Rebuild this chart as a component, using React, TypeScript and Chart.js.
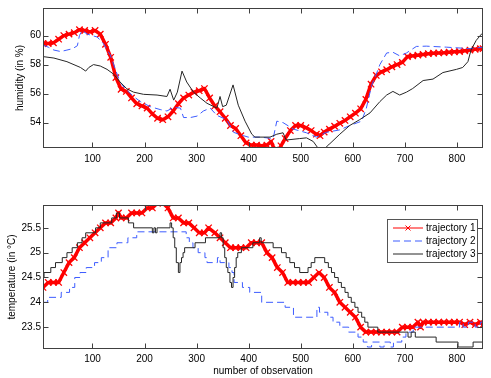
import React, { useEffect, useRef } from 'react';
import { Chart, registerables } from 'chart.js';

Chart.register(...registerables);

// ---------- tick labels ----------
const X_TICKS = [100, 200, 300, 400, 500, 600, 700, 800];
const HUM_TICKS = [54, 56, 58, 60];
const TEMP_TICKS = [23.5, 24, 24.5, 25, 25.5];
const LEGEND_LABELS = ['trajectory 1', 'trajectory 2', 'trajectory 3'];

// ---------- humidity (top) ----------
const HUM_T1: [number, number][] = [
  [5, 59.45], [15, 59.45], [25, 59.5], [35, 59.75], [45, 60.0], [55, 60.1], [65, 60.2], [75, 60.4],
  [85, 60.35], [95, 60.25], [105, 60.35], [115, 60.1], [125, 59.4], [135, 58.5], [145, 57.1],
  [155, 56.3], [165, 56.15], [175, 55.7], [185, 55.3], [195, 55.15], [205, 55.0], [215, 54.6],
  [225, 54.3], [235, 54.2], [245, 54.4], [255, 54.8], [265, 55.3], [275, 55.7], [285, 55.9],
  [295, 56.1], [305, 56.2], [315, 56.35], [325, 55.7], [335, 55.15], [345, 54.75], [355, 54.3],
  [365, 53.8], [375, 53.6], [385, 53.1], [395, 52.6], [405, 52.45], [415, 52.45], [425, 52.4],
  [435, 52.45], [443, 52.7], [450, 52.1], [457, 52.1], [462, 52.4], [470, 52.9], [480, 53.45],
  [490, 53.8], [500, 53.8], [510, 53.65], [520, 53.45], [530, 53.2], [537, 53.1], [545, 53.35],
  [555, 53.55], [565, 53.75], [575, 53.95], [585, 54.15], [595, 54.4], [605, 54.65], [615, 54.95],
  [625, 55.6], [635, 56.65], [645, 57.25], [655, 57.5], [665, 57.65], [675, 57.85], [685, 58.0],
  [695, 58.15], [705, 58.55], [715, 58.6], [725, 58.65], [735, 58.7], [745, 58.75], [755, 58.78],
  [765, 58.8], [775, 58.82], [785, 58.85], [795, 58.88], [805, 58.9], [815, 58.95], [825, 59.0],
  [835, 59.05], [845, 59.1], [850, 59.1],
];

const HUM_T2: [number, number][] = [
  [5, 59.35], [15, 59.2], [26, 59.0], [39, 58.9], [51, 59.0], [62, 59.1], [71, 59.3], [75, 60.0],
  [80, 60.35], [90, 60.1], [109, 59.9], [121, 59.45], [134, 58.67], [144, 57.67], [153, 56.8],
  [163, 56.33], [179, 55.8], [192, 55.45], [211, 55.1], [230, 54.9], [243, 54.8], [256, 55.05],
  [269, 55.0], [275, 54.35], [288, 54.35], [301, 54.45], [313, 54.8], [326, 55.0], [339, 54.5],
  [358, 54.2], [371, 53.33], [390, 53.1], [399, 53.0], [422, 53.0], [447, 52.9], [454, 54.1],
  [466, 54.0], [486, 53.55], [511, 53.3], [530, 53.0], [549, 53.33], [575, 53.5], [594, 53.8],
  [617, 54.1], [626, 55.0], [636, 56.55], [645, 57.33], [652, 58.0], [665, 58.8], [677, 58.85],
  [690, 58.6], [703, 58.8], [722, 59.25], [741, 59.27], [780, 59.2], [824, 59.1], [850, 59.2],
];

const HUM_T3: [number, number][] = [
  [5, 58.55], [26, 58.45], [51, 58.2], [77, 57.8], [87, 57.55], [93, 57.8], [102, 58.0], [115, 57.9],
  [128, 57.67], [141, 57.33], [153, 56.8], [166, 56.33], [179, 56.1], [198, 55.95], [224, 55.9],
  [243, 55.8], [249, 56.3], [256, 55.55], [263, 56.1], [272, 57.55], [281, 56.8], [294, 56.1],
  [307, 55.7], [320, 55.33], [339, 55.0], [345, 55.8], [350, 55.1], [357, 55.2], [370, 56.6],
  [380, 55.2], [393, 54.1], [406, 53.2], [412, 53.0], [441, 53.0], [454, 53.2], [466, 53.3],
  [472, 52.8], [498, 52.9], [511, 52.95], [524, 52.7], [533, 52.25], [541, 51.9], [551, 52.4],
  [556, 52.55], [575, 53.2], [594, 53.8], [613, 54.2], [633, 54.67], [652, 55.45], [665, 55.9],
  [677, 56.15], [690, 55.9], [703, 56.1], [715, 56.35], [735, 56.9], [754, 57.0], [773, 57.45],
  [799, 57.67], [811, 57.8], [821, 58.2], [827, 59.0], [837, 59.67], [847, 60.1], [850, 60.15],
];

// ---------- temperature (bottom) ----------
const TEMP_T1: [number, number][] = [
  [5, 24.3], [15, 24.4], [25, 24.4], [35, 24.4], [45, 24.6], [55, 24.8], [65, 24.9], [75, 25.1],
  [85, 25.2], [95, 25.3], [105, 25.4], [115, 25.5], [125, 25.6], [135, 25.6], [145, 25.7],
  [150, 25.8], [155, 25.7], [165, 25.7], [175, 25.8], [185, 25.8], [195, 25.8], [205, 25.9],
  [215, 25.9], [225, 26.0], [235, 26.0], [245, 25.9], [255, 25.7], [265, 25.7], [275, 25.6],
  [285, 25.6], [295, 25.5], [305, 25.4], [315, 25.4], [323, 25.5], [335, 25.4], [345, 25.3],
  [355, 25.2], [365, 25.1], [375, 25.1], [385, 25.1], [395, 25.1], [405, 25.2], [415, 25.2],
  [425, 25.2], [435, 25.0], [445, 24.9], [455, 24.7], [465, 24.6], [475, 24.4], [485, 24.4],
  [495, 24.4], [505, 24.4], [515, 24.4], [525, 24.5], [535, 24.6], [545, 24.5], [555, 24.3],
  [565, 24.2], [575, 24.0], [585, 23.9], [595, 23.8], [605, 23.7], [615, 23.5], [625, 23.4],
  [635, 23.4], [645, 23.4], [655, 23.4], [665, 23.4], [675, 23.4], [685, 23.4], [695, 23.5],
  [705, 23.5], [715, 23.5], [725, 23.6], [730, 23.5], [735, 23.6], [745, 23.6], [755, 23.6],
  [765, 23.6], [775, 23.6], [785, 23.6], [795, 23.6], [805, 23.6], [815, 23.55], [825, 23.6],
  [835, 23.55], [845, 23.6], [850, 23.55],
];

const TEMP_T2: [number, number][] = [
  [5, 24.0], [14, 24.1], [40, 24.2], [56, 24.3], [66, 24.5], [76, 24.6], [88, 24.7], [104, 24.8],
  [117, 24.9], [130, 25.1], [147, 25.2], [168, 25.3], [185, 25.42], [280, 25.3], [286, 25.2],
  [293, 25.1], [303, 25.0], [316, 24.9], [320, 24.8], [340, 24.9], [345, 24.8], [362, 24.7],
  [368, 24.6], [372, 24.4], [388, 24.3], [402, 24.2], [425, 24.0], [470, 23.9], [486, 23.7],
  [531, 23.9], [536, 23.8], [552, 23.7], [562, 23.6], [575, 23.5], [592, 23.4], [610, 23.3],
  [620, 23.2], [628, 23.1], [636, 23.2], [652, 23.1], [660, 23.2], [672, 23.1], [678, 23.2],
  [694, 23.3], [702, 23.4], [716, 23.5], [805, 23.6], [812, 23.5], [822, 23.6], [835, 23.5],
  [845, 23.6], [850, 23.6],
];

const TEMP_T3: [number, number][] = [
  [5, 24.5], [7, 24.6], [20, 24.7], [29, 24.8], [42, 24.9], [51, 25.0], [61, 25.1], [71, 25.2],
  [80, 25.3], [87, 25.4], [106, 25.5], [115, 25.6], [137, 25.7], [146, 25.8], [152, 25.7],
  [169, 25.6], [179, 25.5], [215, 25.4], [218, 25.5], [221, 25.4], [224, 25.5], [249, 25.6],
  [252, 25.5], [255, 25.3], [258, 25.1], [261, 24.8], [265, 24.6], [268, 24.8], [271, 24.9],
  [274, 25.0], [277, 25.1], [297, 25.2], [317, 25.3], [345, 25.4], [348, 25.3], [351, 25.1],
  [354, 24.9], [357, 24.7], [360, 24.6], [364, 24.4], [367, 24.3], [370, 24.5], [373, 24.7],
  [376, 24.9], [379, 25.0], [386, 25.1], [408, 25.2], [421, 25.3], [424, 25.2], [447, 25.1],
  [463, 25.0], [472, 24.9], [479, 24.8], [488, 24.7], [498, 24.6], [514, 24.7], [520, 24.8],
  [527, 24.9], [546, 24.8], [553, 24.7], [559, 24.6], [565, 24.5], [572, 24.4], [578, 24.3],
  [585, 24.2], [591, 24.1], [597, 24.0], [604, 23.9], [610, 23.8], [617, 23.7], [623, 23.6],
  [629, 23.5], [648, 23.4], [706, 23.3], [712, 23.4], [720, 23.3], [760, 23.2], [802, 23.1],
  [831, 23.2], [850, 23.2],
];

const FONT = { family: '"Liberation Sans", Arial, Helvetica, sans-serif', size: 10 };
const RED = '#ff0000';
const BLUE = '#3d5cff';
const BLACK = '#262626';

const toXY = (arr: [number, number][]) => arr.map(([x, y]) => ({ x, y }));

function framePlugin(xTicks: number[], yTicks: number[]) {
  return {
    id: 'frameTicks',
    afterDraw(chart: any) {
      const { ctx, chartArea: a, scales } = chart;
      ctx.save();
      ctx.strokeStyle = '#404040';
      ctx.lineWidth = 1;
      const L = Math.round(a.left) + 0.5;
      const R = Math.round(a.right) - 0.5;
      const T = Math.round(a.top) + 0.5;
      const B = Math.round(a.bottom) - 0.5;
      ctx.strokeRect(L, T, R - L, B - T);
      const len = 5;
      ctx.beginPath();
      xTicks.forEach((v) => {
        const p = Math.round(scales.x.getPixelForValue(v)) + 0.5;
        ctx.moveTo(p, B); ctx.lineTo(p, B - len);
        ctx.moveTo(p, T); ctx.lineTo(p, T + len);
      });
      yTicks.forEach((v) => {
        const p = Math.round(scales.y.getPixelForValue(v)) + 0.5;
        ctx.moveTo(L, p); ctx.lineTo(L + len, p);
        ctx.moveTo(R, p); ctx.lineTo(R - len, p);
      });
      ctx.stroke();
      ctx.restore();
    },
  };
}

const legendPlugin = {
  id: 'customLegend',
  afterDraw(chart: any) {
    const { ctx } = chart;
    const bx = 387.5, by = 29.5, bw = 90, bh = 43;
    ctx.save();
    ctx.fillStyle = '#ffffff';
    ctx.fillRect(bx, by, bw, bh);
    ctx.strokeStyle = '#555555';
    ctx.lineWidth = 1;
    ctx.strokeRect(bx, by, bw, bh);
    const rows = [38, 51, 64];
    const x0 = 393, x1 = 423;
    ctx.strokeStyle = RED;
    ctx.lineWidth = 1;
    ctx.setLineDash([]);
    ctx.beginPath(); ctx.moveTo(x0, rows[0]); ctx.lineTo(x1, rows[0]); ctx.stroke();
    const mx = (x0 + x1) / 2, r = 2.5;
    ctx.beginPath();
    ctx.moveTo(mx - r, rows[0] - r); ctx.lineTo(mx + r, rows[0] + r);
    ctx.moveTo(mx - r, rows[0] + r); ctx.lineTo(mx + r, rows[0] - r);
    ctx.stroke();
    ctx.strokeStyle = BLUE;
    ctx.setLineDash([7, 4]);
    ctx.beginPath(); ctx.moveTo(x0, rows[1]); ctx.lineTo(x1, rows[1]); ctx.stroke();
    ctx.setLineDash([]);
    ctx.strokeStyle = BLACK;
    ctx.beginPath(); ctx.moveTo(x0, rows[2]); ctx.lineTo(x1, rows[2]); ctx.stroke();
    ctx.fillStyle = '#000';
    ctx.font = `10px ${FONT.family}`;
    ctx.textBaseline = 'middle';
    ctx.textAlign = 'left';
    LEGEND_LABELS.forEach((t, i) => ctx.fillText(t, 426, rows[i]));
    ctx.restore();
  },
};

function makeChart(
  canvas: HTMLCanvasElement,
  opts: {
    s1: [number, number][]; s2: [number, number][]; s3: [number, number][];
    stepped: boolean; yMin: number; yMax: number; yTicks: number[];
    yTitle: string; yTitlePad: number; xTitle?: string;
    padTop: number; xHeight: number; xTickPad: number; legend: boolean;
  },
) {
  const plugins: any[] = [framePlugin(X_TICKS, opts.yTicks)];
  if (opts.legend) plugins.push(legendPlugin);
  return new Chart(canvas, {
    type: 'line',
    data: {
      datasets: [
        {
          label: 'trajectory 3',
          data: toXY(opts.s3),
          borderColor: BLACK,
          borderWidth: 1,
          pointRadius: 0,
          stepped: opts.stepped ? 'before' : false,
          tension: 0,
          clip: 0,
        } as any,
        {
          label: 'trajectory 2',
          data: toXY(opts.s2),
          borderColor: BLUE,
          borderWidth: 1,
          borderDash: [7, 4],
          pointRadius: 0,
          stepped: opts.stepped ? 'before' : false,
          tension: 0,
          clip: 0,
        } as any,
        {
          label: 'trajectory 1',
          data: toXY(opts.s1),
          borderColor: RED,
          borderWidth: 3.5,
          borderJoinStyle: 'round',
          borderCapStyle: 'round',
          pointStyle: 'crossRot',
          pointRadius: 4.5,
          pointBorderWidth: 1.3,
          pointBorderColor: RED,
          pointBackgroundColor: RED,
          tension: 0,
          clip: 0,
        } as any,
      ],
    },
    options: {
      responsive: false,
      animation: false,
      events: [],
      layout: { padding: { left: 0, right: 8, top: opts.padTop, bottom: 0 } },
      plugins: { legend: { display: false }, tooltip: { enabled: false } },
      scales: {
        x: {
          type: 'linear',
          min: 5,
          max: 850,
          grid: { display: false, drawTicks: false },
          border: { display: false },
          afterBuildTicks: (s: any) => { s.ticks = X_TICKS.map((v) => ({ value: v })); },
          afterFit: (s: any) => { s.height = opts.xHeight; },
          ticks: {
            font: FONT, color: '#000', padding: opts.xTickPad, maxRotation: 0, autoSkip: false,
            callback: (v: any) => String(v),
          },
          title: opts.xTitle
            ? { display: true, text: opts.xTitle, font: FONT, color: '#000', padding: { top: 0, bottom: 1 } }
            : { display: false },
        },
        y: {
          type: 'linear',
          min: opts.yMin,
          max: opts.yMax,
          grid: { display: false, drawTicks: false },
          border: { display: false },
          afterBuildTicks: (s: any) => { s.ticks = opts.yTicks.map((v) => ({ value: v })); },
          afterFit: (s: any) => { s.width = 43; },
          ticks: { font: FONT, color: '#000', padding: 2, autoSkip: false, callback: (v: any) => String(v) },
          title: { display: true, text: opts.yTitle, font: FONT, color: '#000', padding: { top: opts.yTitlePad, bottom: 0 } },
        },
      },
    } as any,
    plugins,
  });
}

export default function App() {
  const topRef = useRef<HTMLCanvasElement>(null);
  const botRef = useRef<HTMLCanvasElement>(null);

  useEffect(() => {
    const c1 = makeChart(topRef.current!, {
      s1: HUM_T1, s2: HUM_T2, s3: HUM_T3, stepped: false,
      yMin: 52.25, yMax: 61.9, yTicks: HUM_TICKS,
      yTitle: 'humidity (in %)', yTitlePad: 14,
      padTop: 3, xHeight: 42, xTickPad: 5, legend: false,
    });
    const c2 = makeChart(botRef.current!, {
      s1: TEMP_T1, s2: TEMP_T2, s3: TEMP_T3, stepped: true,
      yMin: 23.06, yMax: 25.96, yTicks: TEMP_TICKS,
      yTitle: 'temperature (in °C)', yTitlePad: 6, xTitle: 'number of observation',
      padTop: 15, xHeight: 29, xTickPad: 4, legend: true,
    });
    return () => { c1.destroy(); c2.destroy(); };
  }, []);

  return (
    <div style={{ position: 'fixed', left: 0, top: 0, width: 491, height: 378, background: '#fff' }}>
      <canvas ref={topRef} width={491} height={190} style={{ position: 'absolute', left: 0, top: 0, display: 'block' }} />
      <canvas ref={botRef} width={491} height={188} style={{ position: 'absolute', left: 0, top: 190, display: 'block' }} />
    </div>
  );
}
